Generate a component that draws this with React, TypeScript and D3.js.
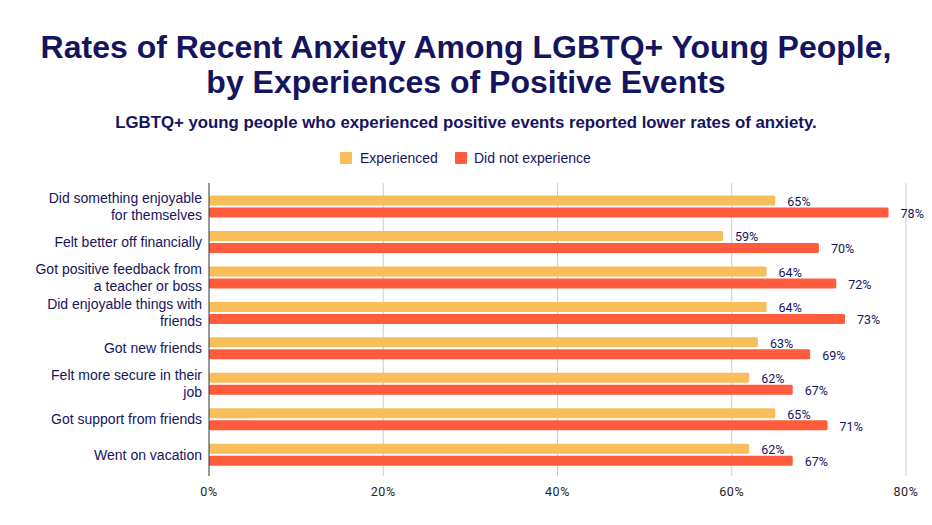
import React from "react";
import * as d3 from "d3";

const categories: string[][] = [
  ["Did something enjoyable", "for themselves"],
  ["Felt better off financially"],
  ["Got positive feedback from", "a teacher or boss"],
  ["Did enjoyable things with", "friends"],
  ["Got new friends"],
  ["Felt more secure in their", "job"],
  ["Got support from friends"],
  ["Went on vacation"],
];
const experienced = [65, 59, 64, 64, 63, 62, 65, 62];
const notExperienced = [78, 70, 72, 73, 69, 67, 71, 67];
const ticks = [0, 20, 40, 60, 80];

const W = 932;
const H = 525;
const NAVY = "#15145e";
const YELLOW = "#f9be5a";
const RED = "#ff5b3d";

export default function App() {
  const x = d3.scaleLinear().domain([0, 80]).range([209, 906]);
  const y = d3
    .scaleBand<number>()
    .domain(d3.range(categories.length))
    .range([188.8, 472.4])
    .paddingInner(0);
  const barH = 10;
  const gap = 2;
  const sans = "Arial, 'Liberation Sans', sans-serif";

  return (
    <div style={{ position: "absolute", left: 0, top: 0 }}>
      <svg width={W} height={H} style={{ display: "block", background: "#fff" }}>
        <text x={466} y={58} textAnchor="middle" fontFamily={sans} fontWeight="bold" fontSize={32} fill={NAVY}>
          Rates of Recent Anxiety Among LGBTQ+ Young People,
        </text>
        <text x={466} y={93} textAnchor="middle" fontFamily={sans} fontWeight="bold" fontSize={32} fill={NAVY}>
          by Experiences of Positive Events
        </text>
        <text x={466} y={128} textAnchor="middle" fontFamily={sans} fontWeight="bold" fontSize={16.8} fill={NAVY}>
          LGBTQ+ young people who experienced positive events reported lower rates of anxiety.
        </text>

        {/* legend */}
        <g fontFamily={sans} fontSize={14} fill={NAVY}>
          <rect x={340} y={152} width={12} height={12} fill={YELLOW} rx={1} />
          <text x={360} y={163}>Experienced</text>
          <rect x={455} y={152} width={12} height={12} fill={RED} rx={1} />
          <text x={474} y={163}>Did not experience</text>
        </g>

        {/* gridlines */}
        {ticks.slice(1).map((t) => (
          <line key={t} x1={x(t)} x2={x(t)} y1={183} y2={476} stroke="#cccccc" strokeWidth={1} />
        ))}

        {/* bars */}
        {categories.map((_, i) => {
          const c = (y(i) as number) + y.bandwidth() / 2;
          const e = experienced[i];
          const n = notExperienced[i];
          const yc = c - gap / 2 - barH / 2;
          const rc = c + gap / 2 + barH / 2;
          return (
            <g key={i}>
              <rect x={x(0)} y={c - gap / 2 - barH} width={x(e) - x(0)} height={barH} fill={YELLOW} rx={1.5} />
              <rect x={x(0)} y={c + gap / 2} width={x(n) - x(0)} height={barH} fill={RED} rx={1.5} />
              <text x={x(e) + 12} y={yc + 5.5} fontFamily="Roboto, sans-serif" fontSize={12.5} fill={NAVY}>
                {e}%
              </text>
              <text x={x(n) + 12} y={rc + 5.5} fontFamily="Roboto, sans-serif" fontSize={12.5} fill={NAVY}>
                {n}%
              </text>
              <text textAnchor="end" fontFamily={sans} fontSize={14} fill={NAVY}>
                {categories[i].map((line, k) => (
                  <tspan key={k} x={202} y={c + 5 + (k - (categories[i].length - 1) / 2) * 17}>
                    {line}
                  </tspan>
                ))}
              </text>
            </g>
          );
        })}

        {/* axis line */}
        <line x1={x(0)} x2={x(0)} y1={183} y2={476} stroke="#333333" strokeWidth={1} />

        {/* tick labels */}
        {ticks.map((t) => (
          <text key={t} x={x(t)} y={496} textAnchor="middle" fontFamily="Roboto, sans-serif" fontSize={12.5} letterSpacing={0.6} fill="#222">
            {t}%
          </text>
        ))}
      </svg>
    </div>
  );
}
